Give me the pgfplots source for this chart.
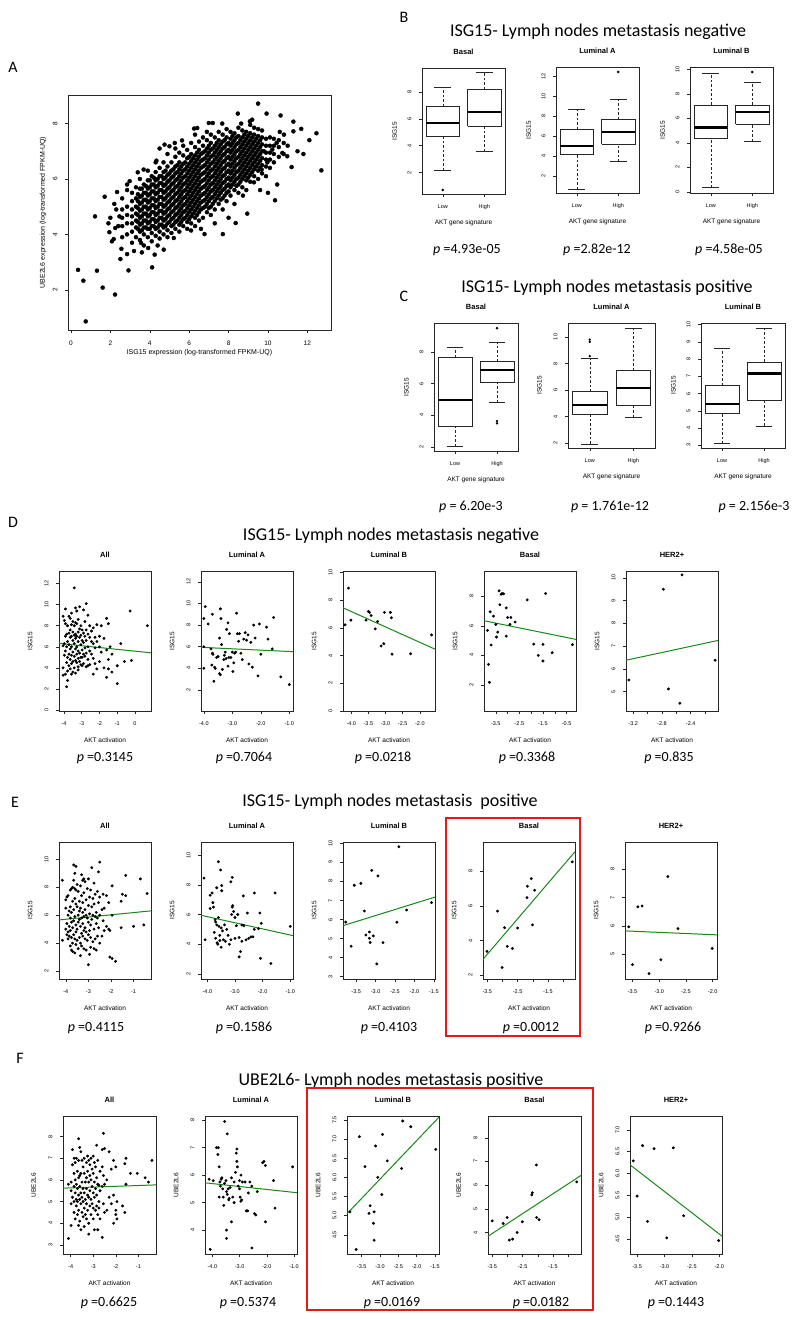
\documentclass[border=0pt]{standalone}
\usepackage{fontspec}
\setmainfont{Liberation Sans}
\newfontfamily\calib{Carlito}
\usepackage{pgfplots}
\pgfplotsset{compat=1.18}
\definecolor{fitgreen}{RGB}{22,138,22}
\definecolor{boxred}{RGB}{232,24,24}

\pgfplotsset{
  rbase/.style={
    scale only axis, anchor=south west, clip=false,
    axis line style={line width=0.6pt, black!85},
    every tick/.style={line width=0.5pt, black!85},
    tick align=outside, major tick length=3pt,
    xtick pos=bottom, ytick pos=left,
    tick label style={font=\fontsize{5.5}{6}\selectfont},
    xticklabel style={anchor=north},
    yticklabel style={rotate=90, anchor=south},
    xticklabel shift=4pt, yticklabel shift=4pt,
    title style={font=\bfseries\fontsize{7.5}{9}\selectfont, at={(axis description cs:0.5,1)}, anchor=center, yshift=10pt},
    xlabel style={font=\fontsize{6.5}{8}\selectfont, at={(axis description cs:0.5,0)}, anchor=center},
    ylabel style={font=\fontsize{6.5}{8}\selectfont, anchor=center},
    /pgf/number format/assume math mode=true,
  },
  rsc/.style={rbase, width=92pt, height=138pt, xlabel={AKT activation},
    xlabel style={yshift=-29pt}, ylabel style={at={(axis description cs:-0.315,0.5)}}},
  rbx/.style={rbase, width=83pt, height=126pt, xmin=0.5, xmax=2.5, xtick={1,2}, xticklabels={Low,High},
    xlabel={AKT gene signature}, xlabel style={yshift=-29pt}, ylabel={ISG15},
    ylabel style={at={(axis description cs:-0.33,0.5)}}},
  dots/.style={only marks, mark=*, mark size=1.25pt, black},
  fit/.style={no marks, line width=1pt, color=fitgreen},
  whisk/.style={black!85, line width=0.5pt, dash pattern=on 2.5pt off 2pt},
}

% box for the Low group: lower whisker, Q1, median, Q3, upper whisker
\newcommand{\blo}[5]{%
  \addplot[whisk] coordinates {(1,#1) (1,#2)};
  \addplot[whisk] coordinates {(1,#4) (1,#5)};
  \addplot[black!85, line width=0.5pt] coordinates {(0.8,#1) (1.2,#1)};
  \addplot[black!85, line width=0.5pt] coordinates {(0.8,#5) (1.2,#5)};
  \addplot[black!85, line width=0.6pt] coordinates {(0.6,#2) (1.4,#2) (1.4,#4) (0.6,#4) (0.6,#2)};
  \addplot[black, line width=2.2pt] coordinates {(0.6,#3) (1.4,#3)};
}
% same for the High group
\newcommand{\bhi}[5]{%
  \addplot[whisk] coordinates {(2,#1) (2,#2)};
  \addplot[whisk] coordinates {(2,#4) (2,#5)};
  \addplot[black!85, line width=0.5pt] coordinates {(1.8,#1) (2.2,#1)};
  \addplot[black!85, line width=0.5pt] coordinates {(1.8,#5) (2.2,#5)};
  \addplot[black!85, line width=0.6pt] coordinates {(1.6,#2) (2.4,#2) (2.4,#4) (1.6,#4) (1.6,#2)};
  \addplot[black, line width=2.2pt] coordinates {(1.6,#3) (2.4,#3)};
}
\newcommand{\ptxt}[3]{\node[font=\calib\fontsize{14}{16}\selectfont] at (#1pt,-#2pt) {{\itshape p} #3};}
\newcommand{\rowtitle}[3]{\node[font=\calib\fontsize{18}{20}\selectfont] at (#1pt,-#2pt) {#3};}
\newcommand{\plabel}[3]{\node[font=\calib\fontsize{16}{18}\selectfont] at (#1pt,-#2pt) {#3};}

\begin{document}
\begin{tikzpicture}
\fill[white] (0,0) rectangle (800pt,-1320pt);
\useasboundingbox (0,0) rectangle (800pt,-1320pt);

% ---------------- A ----------------
\plabel{13}{67}{A}
\begin{axis}[rbase, at={(68pt,-330pt)}, width=263pt, height=235pt,
  xmin=-0.15, xmax=13.2, ymin=0.55, ymax=9.03,
  xtick={0,2,4,6,8,10,12}, xticklabels={0,2,4,6,8,10,12},
  ytick={2,4,6,8}, yticklabels={2,4,6,8},
  tick label style={font=\fontsize{6.5}{7}\selectfont},
  xlabel={ISG15 expression (log-transformed FPKM-UQ)},
  ylabel={UBE2L6 expression (log-transformed FPKM-UQ)},
  xlabel style={font=\fontsize{7}{8}\selectfont, yshift=-23pt},
  ylabel style={font=\fontsize{7}{8}\selectfont, at={(axis description cs:-0.095,0.5)}}]
\addplot[only marks, mark=*, mark size=2pt, black] coordinates {
(0.36,2.72) (0.63,2.33) (0.75,0.86) (1.32,2.69) (1.61,2.08) (2.24,1.83) (1.22,4.65) (1.71,5.36)
(2.34,5.53) (1.95,4.08) (2.08,3.75) (2.17,3.83) (2.25,4.23) (2.51,3.11) (2.56,3.48) (2.85,3.29)
(2.92,2.7) (4.12,2.81) (2.46,4.65) (2.85,5.8) (2.98,5.92) (3.39,6.24) (3.69,6.34) (4.34,6.66)
(4.75,7.24) (5.0,7.18) (5.27,7.3) (5.64,7.39) (6.25,7.82) (6.41,7.84) (7.0,8.02) (7.2,8.02)
(7.68,8.0) (8.47,8.36) (8.64,8.0) (9.08,8.08) (9.2,8.14) (9.5,8.72) (9.93,8.36) (10.64,8.29)
(11.29,8.07) (11.29,7.72) (11.69,7.81) (12.46,7.65) (12.71,6.31) (11.2,6.43) (10.98,6.82) (10.73,6.94)
(10.47,5.8) (10.36,5.23) (10.81,7.6) (10.44,7.3) (10.22,7.06) (8.95,4.75) (8.36,4.41) (7.71,4.01)
(6.78,4.01) (6.1,4.14) (5.22,3.87) (4.71,3.45) (4.25,3.27) (3.92,3.51) (3.56,3.69) (8.73,5.4)
(9.29,5.88) (9.68,6.34) (9.97,6.6) (9.8,7.0) (2.0,4.6) (2.3,4.9) (2.4,4.3) (2.2,5.1) (1.9,4.4)
(3.2,3.4) (3.6,3.35) (4.4,3.6) (11.0,7.2) (11.5,7.0) (10.6,7.7) (11.8,6.9) (12.1,7.4) (9.6,5.6)
(10.0,5.5) (8.0,4.6) (7.3,4.4) (6.6,4.2)
(2.6,3.9) (2.6,4.3) (2.6,4.6) (2.6,4.9) (2.6,5.3)
(2.85,4.0) (2.85,4.4) (2.85,4.7) (2.85,5.0) (2.85,5.6)
(3.1,3.7) (3.1,4.1) (3.1,4.4) (3.1,4.65) (3.1,4.9) (3.1,5.2) (3.1,5.5)
(3.3,3.9) (3.3,4.25) (3.3,4.5) (3.3,4.75) (3.3,5.0) (3.3,5.3) (3.3,5.7)
(3.5,3.8) (3.5,4.1) (3.5,4.35) (3.5,4.6) (3.5,4.85) (3.5,5.1) (3.5,5.35) (3.5,5.65) (3.5,6.0)
(3.7,3.6) (3.7,4.0) (3.7,4.25) (3.7,4.5) (3.7,4.75) (3.7,5.0) (3.7,5.25) (3.7,5.5) (3.7,5.8)
(3.9,3.9) (3.9,4.2) (3.9,4.4) (3.9,4.65) (3.9,4.9) (3.9,5.15) (3.9,5.4) (3.9,5.65) (3.9,5.95) (3.9,6.3)
(4.1,3.75) (4.1,4.05) (4.1,4.3) (4.1,4.55) (4.1,4.8) (4.1,5.05) (4.1,5.3) (4.1,5.55) (4.1,5.8) (4.1,6.1)
(4.3,3.95) (4.3,4.2) (4.3,4.45) (4.3,4.7) (4.3,4.95) (4.3,5.2) (4.3,5.45) (4.3,5.7) (4.3,5.95) (4.3,6.25) (4.3,6.6)
(4.5,3.85) (4.5,4.1) (4.5,4.35) (4.5,4.6) (4.5,4.85) (4.5,5.1) (4.5,5.35) (4.5,5.6) (4.5,5.85) (4.5,6.1) (4.5,6.4) (4.5,7.1)
(4.7,4.0) (4.7,4.25) (4.7,4.5) (4.7,4.75) (4.7,5.0) (4.7,5.25) (4.7,5.5) (4.7,5.75) (4.7,6.0) (4.7,6.25) (4.7,6.6)
(4.9,3.9) (4.9,4.15) (4.9,4.4) (4.9,4.65) (4.9,4.9) (4.9,5.15) (4.9,5.4) (4.9,5.65) (4.9,5.9) (4.9,6.15) (4.9,6.45) (4.9,6.9)
(5.1,4.05) (5.1,4.3) (5.1,4.55) (5.1,4.8) (5.1,5.05) (5.1,5.3) (5.1,5.55) (5.1,5.8) (5.1,6.05) (5.1,6.3) (5.1,6.6)
(5.3,4.2) (5.3,4.45) (5.3,4.7) (5.3,4.95) (5.3,5.2) (5.3,5.45) (5.3,5.7) (5.3,5.95) (5.3,6.2) (5.3,6.45) (5.3,6.8) (5.3,7.1)
(5.5,4.1) (5.5,4.35) (5.5,4.6) (5.5,4.85) (5.5,5.1) (5.5,5.35) (5.5,5.6) (5.5,5.85) (5.5,6.1) (5.5,6.35) (5.5,6.6) (5.5,6.95)
(5.7,4.3) (5.7,4.55) (5.7,4.8) (5.7,5.05) (5.7,5.3) (5.7,5.55) (5.7,5.8) (5.7,6.05) (5.7,6.3) (5.7,6.55) (5.7,6.85) (5.7,7.2)
(5.9,4.2) (5.9,4.45) (5.9,4.7) (5.9,4.95) (5.9,5.2) (5.9,5.45) (5.9,5.7) (5.9,5.95) (5.9,6.2) (5.9,6.45) (5.9,6.75) (5.9,7.05)
(6.1,4.4) (6.1,4.65) (6.1,4.9) (6.1,5.15) (6.1,5.4) (6.1,5.65) (6.1,5.9) (6.1,6.15) (6.1,6.4) (6.1,6.65) (6.1,6.9) (6.1,7.3)
(6.3,4.3) (6.3,4.6) (6.3,4.85) (6.3,5.1) (6.3,5.35) (6.3,5.6) (6.3,5.85) (6.3,6.1) (6.3,6.35) (6.3,6.6) (6.3,6.85) (6.3,7.15) (6.3,7.6)
(6.5,4.5) (6.5,4.8) (6.5,5.05) (6.5,5.3) (6.5,5.55) (6.5,5.8) (6.5,6.05) (6.5,6.3) (6.5,6.55) (6.5,6.8) (6.5,7.05) (6.5,7.35)
(6.7,4.6) (6.7,4.95) (6.7,5.2) (6.7,5.45) (6.7,5.7) (6.7,5.95) (6.7,6.2) (6.7,6.45) (6.7,6.7) (6.7,6.95) (6.7,7.2) (6.7,7.5)
(6.9,4.8) (6.9,5.1) (6.9,5.35) (6.9,5.6) (6.9,5.85) (6.9,6.1) (6.9,6.35) (6.9,6.6) (6.9,6.85) (6.9,7.1) (6.9,7.4) (6.9,7.7)
(7.1,4.7) (7.1,5.0) (7.1,5.3) (7.1,5.55) (7.1,5.8) (7.1,6.05) (7.1,6.3) (7.1,6.55) (7.1,6.8) (7.1,7.05) (7.1,7.3) (7.1,7.6)
(7.3,4.9) (7.3,5.2) (7.3,5.45) (7.3,5.7) (7.3,5.95) (7.3,6.2) (7.3,6.45) (7.3,6.7) (7.3,6.95) (7.3,7.2) (7.3,7.5)
(7.5,5.1) (7.5,5.4) (7.5,5.65) (7.5,5.9) (7.5,6.15) (7.5,6.4) (7.5,6.65) (7.5,6.9) (7.5,7.15) (7.5,7.4) (7.5,7.7)
(7.7,4.9) (7.7,5.3) (7.7,5.6) (7.7,5.85) (7.7,6.1) (7.7,6.35) (7.7,6.6) (7.7,6.85) (7.7,7.1) (7.7,7.35) (7.7,7.6)
(7.9,5.2) (7.9,5.5) (7.9,5.75) (7.9,6.0) (7.9,6.25) (7.9,6.5) (7.9,6.75) (7.9,7.0) (7.9,7.25) (7.9,7.5) (7.9,7.8)
(8.1,5.4) (8.1,5.7) (8.1,5.95) (8.1,6.2) (8.1,6.45) (8.1,6.7) (8.1,6.95) (8.1,7.2) (8.1,7.45) (8.1,7.7)
(8.3,5.1) (8.3,5.6) (8.3,5.9) (8.3,6.15) (8.3,6.4) (8.3,6.65) (8.3,6.9) (8.3,7.15) (8.3,7.4) (8.3,7.65)
(8.5,5.5) (8.5,5.8) (8.5,6.05) (8.5,6.3) (8.5,6.55) (8.5,6.8) (8.5,7.05) (8.5,7.3) (8.5,7.55) (8.5,7.85)
(8.7,5.7) (8.7,6.0) (8.7,6.25) (8.7,6.5) (8.7,6.75) (8.7,7.0) (8.7,7.25) (8.7,7.5) (8.7,7.75)
(8.9,5.6) (8.9,5.95) (8.9,6.2) (8.9,6.45) (8.9,6.7) (8.9,6.95) (8.9,7.2) (8.9,7.45) (8.9,7.7)
(9.1,5.9) (9.1,6.15) (9.1,6.4) (9.1,6.65) (9.1,6.9) (9.1,7.15) (9.1,7.4) (9.1,7.65) (9.1,7.95)
(9.3,6.1) (9.3,6.35) (9.3,6.6) (9.3,6.85) (9.3,7.1) (9.3,7.35) (9.3,7.6) (9.3,7.85)
(9.5,6.0) (9.5,6.3) (9.5,6.55) (9.5,6.8) (9.5,7.05) (9.5,7.3) (9.5,7.55) (9.5,7.8)
(9.7,6.2) (9.7,6.5) (9.7,6.75) (9.7,7.0) (9.7,7.25) (9.7,7.5) (9.7,7.75)
(9.9,6.1) (9.9,6.45) (9.9,6.7) (9.9,6.95) (9.9,7.2) (9.9,7.45)
(10.1,6.4) (10.1,6.7) (10.1,6.95) (10.1,7.2) (10.1,7.5)
(10.3,6.6) (10.3,6.9) (10.3,7.2) (10.3,7.45)
(10.55,6.8) (10.55,7.15) (10.55,7.4) (10.8,6.9) (10.8,7.3)
};
% the dense core of the cloud
\addplot[only marks, mark=*, mark size=2pt, black] coordinates {
(3.4,4.2) (3.4,4.45) (3.4,4.7) (3.4,4.95) (3.4,5.2) (3.4,5.45)
(3.6,4.15) (3.6,4.4) (3.6,4.65) (3.6,4.9) (3.6,5.15) (3.6,5.4) (3.6,5.65)
(3.8,4.25) (3.8,4.5) (3.8,4.75) (3.8,5.0) (3.8,5.25) (3.8,5.5) (3.8,5.75)
(4.0,4.2) (4.0,4.45) (4.0,4.7) (4.0,4.95) (4.0,5.2) (4.0,5.45) (4.0,5.7) (4.0,5.95)
(4.2,4.3) (4.2,4.55) (4.2,4.8) (4.2,5.05) (4.2,5.3) (4.2,5.55) (4.2,5.8) (4.2,6.05)
(4.4,4.25) (4.4,4.5) (4.4,4.75) (4.4,5.0) (4.4,5.25) (4.4,5.5) (4.4,5.75) (4.4,6.0)
(4.6,4.35) (4.6,4.6) (4.6,4.85) (4.6,5.1) (4.6,5.35) (4.6,5.6) (4.6,5.85) (4.6,6.1)
(4.8,4.3) (4.8,4.55) (4.8,4.8) (4.8,5.05) (4.8,5.3) (4.8,5.55) (4.8,5.8) (4.8,6.05) (4.8,6.3)
(5.0,4.45) (5.0,4.7) (5.0,4.95) (5.0,5.2) (5.0,5.45) (5.0,5.7) (5.0,5.95) (5.0,6.2)
(5.2,4.35) (5.2,4.6) (5.2,4.85) (5.2,5.1) (5.2,5.35) (5.2,5.6) (5.2,5.85) (5.2,6.1) (5.2,6.35)
(5.4,4.5) (5.4,4.75) (5.4,5.0) (5.4,5.25) (5.4,5.5) (5.4,5.75) (5.4,6.0) (5.4,6.25) (5.4,6.5)
(5.6,4.45) (5.6,4.7) (5.6,4.95) (5.6,5.2) (5.6,5.45) (5.6,5.7) (5.6,5.95) (5.6,6.2) (5.6,6.45)
(5.8,4.6) (5.8,4.85) (5.8,5.1) (5.8,5.35) (5.8,5.6) (5.8,5.85) (5.8,6.1) (5.8,6.35) (5.8,6.6)
(6.0,4.55) (6.0,4.8) (6.0,5.05) (6.0,5.3) (6.0,5.55) (6.0,5.8) (6.0,6.05) (6.0,6.3) (6.0,6.55) (6.0,6.8)
(6.2,4.75) (6.2,5.0) (6.2,5.25) (6.2,5.5) (6.2,5.75) (6.2,6.0) (6.2,6.25) (6.2,6.5) (6.2,6.75)
(6.4,4.7) (6.4,4.95) (6.4,5.2) (6.4,5.45) (6.4,5.7) (6.4,5.95) (6.4,6.2) (6.4,6.45) (6.4,6.7) (6.4,6.95)
(6.6,4.9) (6.6,5.15) (6.6,5.4) (6.6,5.65) (6.6,5.9) (6.6,6.15) (6.6,6.4) (6.6,6.65) (6.6,6.9)
(6.8,5.0) (6.8,5.25) (6.8,5.5) (6.8,5.75) (6.8,6.0) (6.8,6.25) (6.8,6.5) (6.8,6.75) (6.8,7.0)
(7.0,4.95) (7.0,5.2) (7.0,5.45) (7.0,5.7) (7.0,5.95) (7.0,6.2) (7.0,6.45) (7.0,6.7) (7.0,6.95) (7.0,7.2)
(7.2,5.1) (7.2,5.35) (7.2,5.6) (7.2,5.85) (7.2,6.1) (7.2,6.35) (7.2,6.6) (7.2,6.85) (7.2,7.1)
(7.4,5.3) (7.4,5.55) (7.4,5.8) (7.4,6.05) (7.4,6.3) (7.4,6.55) (7.4,6.8) (7.4,7.05) (7.4,7.3)
(7.6,5.25) (7.6,5.5) (7.6,5.75) (7.6,6.0) (7.6,6.25) (7.6,6.5) (7.6,6.75) (7.6,7.0) (7.6,7.25)
(7.8,5.4) (7.8,5.65) (7.8,5.9) (7.8,6.15) (7.8,6.4) (7.8,6.65) (7.8,6.9) (7.8,7.15) (7.8,7.4)
(8.0,5.55) (8.0,5.8) (8.0,6.05) (8.0,6.3) (8.0,6.55) (8.0,6.8) (8.0,7.05) (8.0,7.3)
(8.2,5.8) (8.2,6.05) (8.2,6.3) (8.2,6.55) (8.2,6.8) (8.2,7.05) (8.2,7.3) (8.2,7.55)
(8.4,5.75) (8.4,6.0) (8.4,6.25) (8.4,6.5) (8.4,6.75) (8.4,7.0) (8.4,7.25) (8.4,7.5)
(8.6,5.9) (8.6,6.15) (8.6,6.4) (8.6,6.65) (8.6,6.9) (8.6,7.15) (8.6,7.4)
(8.8,6.1) (8.8,6.35) (8.8,6.6) (8.8,6.85) (8.8,7.1) (8.8,7.35) (8.8,7.6)
(9.0,6.05) (9.0,6.3) (9.0,6.55) (9.0,6.8) (9.0,7.05) (9.0,7.3) (9.0,7.55)
(9.2,6.25) (9.2,6.5) (9.2,6.75) (9.2,7.0) (9.2,7.25) (9.2,7.5)
(9.4,6.45) (9.4,6.7) (9.4,6.95) (9.4,7.2) (9.4,7.45)
(9.6,6.4) (9.6,6.65) (9.6,6.9) (9.6,7.15) (9.6,7.4)
};
\end{axis}

% ---------------- B ----------------
\plabel{404}{17}{B}
\rowtitle{598}{32}{ISG15- Lymph nodes metastasis negative}
\begin{axis}[rbx, at={(422pt,-194pt)}, ymin=0.4, ymax=9.78,
  ytick={2,4,6,8}, yticklabels={2,4,6,8}, title={Basal}]
\blo{2.15}{4.7}{5.7}{6.95}{8.35}
\bhi{3.58}{5.45}{6.5}{8.2}{9.45}
\addplot[only marks, mark=*, mark size=1pt, black] coordinates {(1,0.7)};
\end{axis}
\begin{axis}[rbx, at={(556pt,-193pt)}, ymin=0.27, ymax=12.93,
  ytick={2,4,6,8,10,12}, yticklabels={2,4,6,8,10,12}, title={Luminal A}]
\blo{0.67}{4.17}{5.0}{6.67}{8.67}
\bhi{3.43}{5.17}{6.37}{7.67}{9.7}
\addplot[only marks, mark=*, mark size=1pt, black] coordinates {(2,12.43)};
\end{axis}
\begin{axis}[rbx, at={(690pt,-193pt)}, ymin=-0.1, ymax=10.2,
  ytick={0,2,4,6,8,10}, yticklabels={0,2,4,6,8,10}, title={Luminal B}]
\blo{0.33}{4.4}{5.25}{7.1}{9.65}
\bhi{4.13}{5.5}{6.55}{7.1}{8.93}
\addplot[only marks, mark=*, mark size=1pt, black] coordinates {(2,9.79)};
\end{axis}
\ptxt{467}{250}{=4.93e-05}
\ptxt{597}{250}{=2.82e-12}
\ptxt{729}{250}{=4.58e-05}

% ---------------- C ----------------
\plabel{404}{296}{C}
\rowtitle{607}{288}{ISG15- Lymph nodes metastasis positive}
\begin{axis}[rbx, at={(434pt,-451pt)}, width=84pt, height=128pt, ymin=1.75, ymax=9.83,
  ytick={2,4,6,8}, yticklabels={2,4,6,8}, title={Basal}]
\blo{2.06}{3.33}{4.95}{7.68}{8.32}
\bhi{4.84}{6.1}{6.88}{7.4}{8.6}
\addplot[only marks, mark=*, mark size=1pt, black] coordinates {(2,9.5) (2,3.64) (2,3.5)};
\end{axis}
\begin{axis}[rbx, at={(568pt,-448pt)}, width=87pt, height=125pt, ymin=1.63, ymax=11.05,
  ytick={2,4,6,8,10}, yticklabels={2,4,6,8,10}, title={Luminal A}]
\blo{1.95}{4.2}{4.88}{5.88}{8.38}
\bhi{3.93}{4.88}{6.13}{7.5}{10.68}
\addplot[only marks, mark=*, mark size=1pt, black] coordinates {(1,9.8) (1,9.63) (1,8.55)};
\end{axis}
\begin{axis}[rbx, at={(701pt,-448pt)}, width=84pt, height=125pt, ymin=2.85, ymax=10.1,
  ytick={3,4,5,6,7,8,9,10}, yticklabels={3,4,5,6,7,8,9,10}, title={Luminal B}]
\blo{3.1}{4.85}{5.4}{6.5}{8.66}
\bhi{4.13}{5.6}{7.17}{7.85}{9.8}
\end{axis}
\ptxt{471}{507}{= 6.20e-3}
\ptxt{610}{507}{= 1.761e-12}
\ptxt{754}{507}{= 2.156e-3}

% ---------------- D ----------------
\plabel{13}{522}{D}
\rowtitle{391}{536}{ISG15- Lymph nodes metastasis negative}
\begin{axis}[rsc, at={(59pt,-711pt)}, height=140pt, xmin=-4.28, xmax=0.9, ymin=-0.1, ymax=13.2,
  xtick={-4,-3,-2,-1,0}, xticklabels={-4,-3,-2,-1,0},
  ytick={0,2,4,6,8,10,12}, yticklabels={0,2,4,6,8,10,12}, title={All}, ylabel={ISG15}]
\addplot[dots] coordinates {
(-4.05,6.1) (-4.05,8.9) (-4.05,4.0) (-4.05,3.3) (-3.98,8.5) (-3.98,6.3) (-3.98,5.2)
(-3.92,8.2) (-3.92,7.0) (-3.92,5.6) (-3.92,3.4) (-3.92,9.6) (-3.85,7.2) (-3.85,6.0) (-3.85,4.5) (-3.85,2.2)
(-3.8,8.0) (-3.8,6.5) (-3.8,5.0) (-3.8,3.7) (-3.8,2.8) (-3.72,8.9) (-3.72,7.3) (-3.72,6.2) (-3.72,5.3) (-3.72,4.2)
(-3.65,8.7) (-3.65,7.6) (-3.65,6.9) (-3.65,5.8) (-3.65,4.8) (-3.65,3.9)
(-3.58,9.2) (-3.58,8.1) (-3.58,7.0) (-3.58,6.0) (-3.58,5.2) (-3.58,4.4) (-3.58,3.4)
(-3.5,8.4) (-3.5,7.4) (-3.5,6.6) (-3.5,5.5) (-3.5,4.6) (-3.5,3.6)
(-3.42,11.6) (-3.42,8.0) (-3.42,7.1) (-3.42,6.3) (-3.42,5.1) (-3.42,4.0)
(-3.35,9.7) (-3.35,8.3) (-3.35,7.2) (-3.35,6.8) (-3.35,5.8) (-3.35,4.7) (-3.35,3.5)
(-3.28,9.4) (-3.28,8.2) (-3.28,7.0) (-3.28,6.0) (-3.28,5.3) (-3.28,4.5)
(-3.2,8.6) (-3.2,7.4) (-3.2,6.5) (-3.2,5.6) (-3.2,4.9) (-3.2,4.1) (-3.2,3.8)
(-3.12,9.8) (-3.12,7.7) (-3.12,6.9) (-3.12,5.4) (-3.12,4.6) (-3.05,8.0) (-3.05,7.1) (-3.05,6.2) (-3.05,5.0) (-3.05,4.3)
(-2.98,7.6) (-2.98,6.6) (-2.98,5.7) (-2.98,5.0) (-2.98,4.2) (-2.9,9.5) (-2.9,7.3) (-2.9,6.4) (-2.9,5.3) (-2.9,4.4)
(-2.82,8.4) (-2.82,7.0) (-2.82,5.9) (-2.82,5.1) (-2.75,10.1) (-2.75,7.6) (-2.75,6.6) (-2.75,5.4) (-2.75,4.1)
(-2.65,9.0) (-2.65,7.2) (-2.65,6.0) (-2.65,4.8) (-2.65,4.2) (-2.55,8.0) (-2.55,6.9) (-2.55,5.6) (-2.55,4.3)
(-2.45,7.5) (-2.45,6.5) (-2.45,5.3) (-2.35,7.8) (-2.35,6.3) (-2.35,4.9) (-2.35,3.4)
(-2.25,6.9) (-2.25,5.9) (-2.25,4.4) (-2.15,8.1) (-2.15,6.5) (-2.15,3.9) (-2.0,7.0) (-2.0,6.0) (-2.0,4.6)
(-1.9,8.0) (-1.9,5.5) (-1.75,6.8) (-1.75,4.0) (-1.6,8.7) (-1.6,5.7) (-1.6,3.1) (-1.5,8.2) (-1.5,4.8) (-1.5,3.9)
(-1.4,6.0) (-1.3,5.3) (-1.3,3.6) (-1.0,2.5) (-1.0,4.2) (-0.8,6.3) (-0.6,4.6) (-0.28,9.4) (-0.2,4.7) (0.7,8.0)
};
\addplot[fit] coordinates {(-4.28,6.32) (0.9,5.43)};
\end{axis}
\begin{axis}[rsc, at={(201pt,-711pt)}, height=140pt, xmin=-4.1, xmax=-0.87, ymin=0.05, ymax=13.0,
  xtick={-4,-3,-2,-1}, xticklabels={-4.0,-3.0,-2.0,-1.0},
  ytick={2,4,6,8,10,12}, yticklabels={2,4,6,8,10,12}, title={Luminal A}, ylabel={ISG15}]
\addplot[dots] coordinates {
(-4.0,8.6) (-3.95,9.7) (-3.85,8.1) (-4.0,6.0) (-4.0,4.0) (-3.7,9.0) (-3.75,5.8) (-3.7,5.4) (-3.68,5.3)
(-3.72,4.3) (-3.62,4.1) (-3.6,4.0) (-3.65,2.8) (-3.55,5.0) (-3.5,5.1) (-3.45,6.8) (-3.42,9.5) (-3.4,8.6)
(-3.45,3.5) (-3.42,3.4) (-3.35,3.9) (-3.38,6.2) (-3.3,4.8) (-3.28,5.2) (-3.25,5.5) (-3.22,4.9) (-3.2,7.6)
(-3.15,4.2) (-3.12,5.0) (-3.15,8.2) (-3.1,7.2) (-3.05,5.0) (-3.0,5.5) (-2.98,3.7) (-2.95,4.5) (-2.92,5.4)
(-2.88,5.5) (-2.85,9.1) (-2.82,7.2) (-2.78,6.5) (-2.75,7.2) (-2.7,5.4) (-2.65,4.8) (-2.6,6.7) (-2.55,7.3)
(-2.5,6.6) (-2.45,7.1) (-2.42,4.4) (-2.35,6.4) (-2.3,4.1) (-2.25,8.0) (-2.2,6.8) (-2.1,3.3) (-2.05,8.1)
(-2.0,5.3) (-1.8,7.8) (-1.75,6.7) (-1.6,5.8) (-1.55,8.7) (-1.3,3.2) (-1.0,2.5)
};
\addplot[fit] coordinates {(-4.1,5.94) (-0.87,5.54)};
\end{axis}
\begin{axis}[rsc, at={(343pt,-711pt)}, height=140pt, xmin=-4.24, xmax=-1.56, ymin=0, ymax=10.12,
  xtick={-4,-3.5,-3,-2.5,-2}, xticklabels={-4.0,-3.5,-3.0,-2.5,-2.0},
  ytick={0,2,4,6,8,10}, yticklabels={0,2,4,6,8,10}, title={Luminal B}, ylabel={ISG15}]
\addplot[dots] coordinates {
(-4.18,6.23) (-4.08,8.88) (-4.01,6.57) (-3.57,6.57) (-3.5,7.2) (-3.47,7.13) (-3.42,6.9) (-3.3,5.94)
(-3.23,6.47) (-3.13,4.7) (-3.05,4.87) (-3.03,7.13) (-2.86,7.13) (-2.83,6.74) (-2.81,4.11) (-2.27,4.14) (-1.66,5.5)
};
\addplot[fit] coordinates {(-4.24,7.46) (-1.56,4.47)};
\end{axis}
\begin{axis}[rsc, at={(484pt,-711pt)}, height=140pt, xmin=-4.0, xmax=-0.1, ymin=0.24, ymax=9.7,
  xtick={-3.5,-3,-2.5,-2,-1.5,-1,-0.5}, xticklabels={-3.5,,-2.5,,-1.5,,-0.5},
  ytick={2,4,6,8}, yticklabels={2,4,6,8}, title={Basal}, ylabel={ISG15}]
\addplot[dots] coordinates {
(-3.85,5.69) (-3.81,3.39) (-3.77,2.18) (-3.74,6.94) (-3.7,4.7) (-3.6,6.65) (-3.5,6.09) (-3.47,5.24)
(-3.42,5.57) (-3.36,8.36) (-3.33,7.42) (-3.27,8.13) (-3.23,8.18) (-3.17,8.16) (-3.06,7.21) (-3.06,5.3)
(-3.0,6.56) (-2.86,6.56) (-2.9,6.09) (-2.68,6.25) (-2.17,7.75) (-1.89,4.76) (-1.7,4.0) (-1.5,4.74)
(-1.5,3.62) (-1.39,8.18) (-1.11,4.18) (-0.25,4.72)
};
\addplot[fit] coordinates {(-4.0,6.34) (-0.1,5.08)};
\end{axis}
\begin{axis}[rsc, at={(626pt,-711pt)}, height=140pt, xmin=-3.3, xmax=-2.02, ymin=4.15, ymax=10.3,
  xtick={-3.2,-3.0,-2.8,-2.6,-2.4,-2.2}, xticklabels={-3.2,,-2.8,,-2.4,},
  ytick={5,6,7,8,9,10}, yticklabels={5,6,7,8,9,10}, title={HER2+}, ylabel={ISG15}]
\addplot[dots] coordinates {(-3.26,5.51) (-2.78,9.5) (-2.71,5.12) (-2.55,4.49) (-2.06,6.38) (-2.52,10.13)};
\addplot[fit] coordinates {(-3.3,6.38) (-2.02,7.25)};
\end{axis}
\ptxt{105}{758}{=0.3145}
\ptxt{244}{758}{=0.7064}
\ptxt{383}{758}{=0.0218}
\ptxt{527}{758}{=0.3368}
\ptxt{669}{758}{=0.835}

% ---------------- E ----------------
\plabel{15}{802}{E}
\rowtitle{390}{802}{ISG15- Lymph nodes metastasis~ positive}
\draw[boxred, line width=1.6pt] (446pt,-818pt) rectangle (580pt,-1036pt);
\begin{axis}[rsc, at={(59pt,-979pt)}, height=137pt, xmin=-4.3, xmax=-0.23, ymin=1.43, ymax=11.24,
  xtick={-4,-3,-2,-1}, xticklabels={-4,-3,-2,-1},
  ytick={2,4,6,8,10}, yticklabels={2,4,6,8,10}, title={All}, ylabel={ISG15}]
\addplot[dots] coordinates {
(-4.15,8.5) (-4.15,4.2) (-4.0,7.1) (-4.0,6.5) (-4.0,5.0) (-3.95,7.3) (-3.95,5.4) (-3.95,4.6)
(-3.9,7.4) (-3.9,6.0) (-3.9,4.8) (-3.9,4.3) (-3.85,6.3) (-3.85,5.2) (-3.85,4.5)
(-3.8,7.8) (-3.8,6.6) (-3.8,5.8) (-3.8,4.9) (-3.8,3.8) (-3.75,7.9) (-3.75,6.2) (-3.75,5.5) (-3.75,4.4) (-3.75,3.5)
(-3.7,8.0) (-3.7,7.0) (-3.7,5.1) (-3.7,4.0) (-3.7,3.4) (-3.65,9.6) (-3.65,8.5) (-3.65,6.4) (-3.65,5.6) (-3.65,4.6)
(-3.6,9.0) (-3.6,7.9) (-3.6,7.2) (-3.6,5.9) (-3.6,4.3) (-3.6,3.3) (-3.55,9.5) (-3.55,7.8) (-3.55,6.8) (-3.55,5.3) (-3.55,4.8) (-3.55,3.9)
(-3.5,8.2) (-3.5,6.6) (-3.5,5.0) (-3.5,4.2) (-3.45,7.7) (-3.45,6.0) (-3.45,5.5) (-3.45,3.6)
(-3.4,7.0) (-3.4,6.3) (-3.4,5.7) (-3.4,4.4) (-3.35,8.1) (-3.35,6.5) (-3.35,5.2) (-3.35,4.0) (-3.35,3.1)
(-3.3,8.9) (-3.3,7.4) (-3.3,5.8) (-3.3,4.7) (-3.3,3.8) (-3.25,8.5) (-3.25,6.9) (-3.25,6.2) (-3.25,5.4) (-3.25,4.5)
(-3.2,8.6) (-3.2,7.6) (-3.2,5.9) (-3.2,4.9) (-3.2,3.6) (-3.15,8.4) (-3.15,6.4) (-3.15,5.1) (-3.15,4.3)
(-3.1,7.1) (-3.1,6.0) (-3.1,4.8) (-3.1,3.5) (-3.05,7.9) (-3.05,5.8) (-3.05,4.2)
(-3.0,8.6) (-3.0,6.7) (-3.0,5.5) (-3.0,4.6) (-3.0,2.45) (-2.95,7.3) (-2.95,6.1) (-2.95,4.9) (-2.95,3.2)
(-2.9,7.8) (-2.9,5.3) (-2.9,4.4) (-2.9,3.7) (-2.85,9.4) (-2.85,6.6) (-2.85,5.7) (-2.8,7.2) (-2.8,6.0) (-2.8,4.1)
(-2.75,8.3) (-2.75,6.8) (-2.75,5.0) (-2.75,3.6) (-2.7,7.5) (-2.7,5.9) (-2.7,4.3) (-2.65,6.2) (-2.65,5.4) (-2.65,3.5)
(-2.6,7.7) (-2.6,5.8) (-2.6,4.5) (-2.55,9.1) (-2.55,6.9) (-2.55,5.1) (-2.5,9.8) (-2.5,7.3) (-2.5,6.0) (-2.5,4.0)
(-2.4,6.4) (-2.4,4.5) (-2.35,7.5) (-2.35,5.6) (-2.3,6.5) (-2.3,4.9) (-2.2,7.4) (-2.2,5.2) (-2.1,6.9) (-2.1,5.0)
(-2.05,3.0) (-2.05,4.9) (-1.95,8.1) (-1.95,2.9) (-1.95,6.0) (-1.8,2.7) (-1.55,7.0) (-1.55,5.1) (-1.5,7.5)
(-1.35,8.85) (-1.35,7.4) (-1.0,5.2) (-0.7,8.6) (-0.55,5.3) (-0.4,7.55)
};
\addplot[fit] coordinates {(-4.3,5.66) (-0.23,6.31)};
\end{axis}
\begin{axis}[rsc, at={(201pt,-979pt)}, height=137pt, xmin=-4.23, xmax=-0.9, ymin=1.66, ymax=10.88,
  xtick={-4,-3,-2,-1}, xticklabels={-4.0,-3.0,-2.0,-1.0},
  ytick={2,4,6,8,10}, yticklabels={2,4,6,8,10}, title={Luminal A}, ylabel={ISG15}]
\addplot[dots] coordinates {
(-4.12,8.45) (-4.08,4.3) (-3.9,7.3) (-3.83,7.45) (-3.8,6.8) (-3.9,6.4) (-3.78,6.5) (-3.6,9.55) (-3.52,9.0)
(-3.48,7.6) (-3.48,7.95) (-3.66,7.8) (-3.72,5.65) (-3.66,5.3) (-3.7,5.5) (-3.75,4.8) (-3.7,4.4) (-3.65,4.1)
(-3.62,4.0) (-3.55,4.6) (-3.55,4.25) (-3.5,3.8) (-3.45,4.9) (-3.42,4.3) (-3.6,5.8) (-3.58,5.2) (-3.5,5.1)
(-3.38,5.3) (-3.3,5.0) (-3.2,4.0) (-3.15,4.3) (-3.12,6.0) (-3.1,6.5) (-3.08,6.6) (-3.15,8.2) (-3.1,8.5)
(-3.05,6.2) (-3.0,5.8) (-3.0,4.4) (-2.95,5.25) (-2.85,3.15) (-2.8,3.5) (-2.75,4.2) (-2.7,7.25) (-2.68,5.25)
(-2.6,4.3) (-2.55,6.1) (-2.5,4.4) (-2.42,4.5) (-2.35,4.5) (-2.3,7.45) (-2.3,5.0) (-2.15,5.05) (-2.1,6.1)
(-2.08,3.05) (-2.05,5.4) (-1.55,7.45) (-1.7,2.7) (-1.0,5.2) (-2.9,6.0) (-2.75,5.3) (-3.35,4.2) (-3.25,4.6) (-2.85,4.45)
};
\addplot[fit] coordinates {(-4.23,5.95) (-0.9,4.58)};
\end{axis}
\begin{axis}[rsc, at={(343pt,-979pt)}, height=137pt, xmin=-3.84, xmax=-1.47, ymin=2.88, ymax=10.07,
  xtick={-3.5,-3,-2.5,-2,-1.5}, xticklabels={-3.5,-3.0,-2.5,-2.0,-1.5},
  ytick={3,4,5,6,7,8,9,10}, yticklabels={3,4,5,6,7,8,9,10}, title={Luminal B}, ylabel={ISG15}]
\addplot[dots] coordinates {
(-3.77,5.87) (-3.63,4.6) (-3.55,7.8) (-3.38,7.9) (-3.29,6.45) (-3.25,5.19) (-3.16,5.35) (-3.16,5.02)
(-3.14,4.8) (-3.1,8.58) (-3.06,5.14) (-2.94,8.29) (-2.97,3.67) (-2.81,4.79) (-2.4,9.82) (-2.45,5.86)
(-2.2,6.5) (-1.56,6.89)
};
\addplot[fit] coordinates {(-3.84,5.68) (-1.47,7.18)};
\end{axis}
\begin{axis}[rsc, at={(483pt,-979pt)}, height=137pt, xmin=-3.64, xmax=-0.61, ymin=1.77, ymax=9.7,
  xtick={-3.5,-3,-2.5,-2,-1.5,-1}, xticklabels={-3.5,,-2.5,,-1.5,},
  ytick={2,4,6,8}, yticklabels={2,4,6,8}, title={Basal}, ylabel={ISG15}]
\addplot[dots] coordinates {
(-3.51,3.37) (-3.16,5.7) (-3.01,2.44) (-2.93,4.74) (-2.84,3.66) (-2.67,3.54) (-2.5,4.72)
(-2.19,6.48) (-2.18,7.14) (-2.05,7.58) (-2.01,4.9) (-1.94,6.91) (-0.7,8.55)
};
\addplot[fit] coordinates {(-3.64,2.91) (-0.61,9.14)};
\end{axis}
\begin{axis}[rsc, at={(625pt,-979pt)}, height=137pt, xmin=-3.64, xmax=-1.92, ymin=4.12, ymax=8.96,
  xtick={-3.5,-3,-2.5,-2}, xticklabels={-3.5,-3.0,-2.5,-2.0},
  ytick={5,6,7,8}, yticklabels={5,6,7,8}, title={HER2+}, ylabel={ISG15}]
\addplot[dots] coordinates {
(-3.57,5.96) (-3.5,4.63) (-3.4,6.67) (-3.32,6.7) (-3.19,4.31) (-2.97,4.8) (-2.84,7.74) (-2.65,5.9) (-2.01,5.2)
};
\addplot[fit] coordinates {(-3.64,5.82) (-1.92,5.68)};
\end{axis}
\ptxt{96}{1028}{=0.4115}
\ptxt{244}{1028}{=0.1586}
\ptxt{389}{1028}{=0.4103}
\ptxt{531}{1028}{=0.0012}
\ptxt{673}{1028}{=0.9266}

% ---------------- F ----------------
\plabel{20}{1058}{F}
\rowtitle{391}{1081}{UBE2L6- Lymph nodes metastasis positive}
\draw[boxred, line width=1.6pt] (307pt,-1088pt) rectangle (593pt,-1310pt);
\begin{axis}[rsc, at={(63pt,-1254pt)}, width=93pt, xmin=-4.34, xmax=-0.22, ymin=2.58, ymax=8.95,
  xtick={-4,-3,-2,-1}, xticklabels={-4,-3,-2,-1},
  ytick={3,4,5,6,7,8}, yticklabels={3,4,5,6,7,8}, title={All}, ylabel={UBE2L6}]
\addplot[dots] coordinates {
(-4.1,5.8) (-4.1,3.3) (-3.98,5.9) (-3.98,5.5) (-3.98,4.9) (-3.98,3.9) (-3.92,7.4) (-3.92,6.7) (-3.92,5.2)
(-3.85,7.0) (-3.85,6.3) (-3.85,5.7) (-3.85,5.0) (-3.85,4.5) (-3.8,6.8) (-3.8,6.0) (-3.8,5.4) (-3.8,4.2)
(-3.75,7.0) (-3.75,5.8) (-3.75,5.1) (-3.75,4.8) (-3.7,6.4) (-3.7,5.6) (-3.7,5.0) (-3.7,4.4)
(-3.65,7.9) (-3.65,6.9) (-3.65,6.1) (-3.65,5.3) (-3.65,4.6) (-3.65,3.9) (-3.6,7.5) (-3.6,6.2) (-3.6,5.7) (-3.6,5.1) (-3.6,4.1)
(-3.55,7.3) (-3.55,6.3) (-3.55,5.4) (-3.55,4.9) (-3.55,3.7) (-3.5,6.9) (-3.5,5.9) (-3.5,5.2) (-3.5,4.5)
(-3.45,6.6) (-3.45,5.6) (-3.45,5.0) (-3.45,4.3) (-3.4,7.0) (-3.4,6.3) (-3.4,5.4) (-3.4,4.7) (-3.4,3.85)
(-3.35,5.9) (-3.35,5.1) (-3.35,4.4) (-3.3,6.8) (-3.3,6.1) (-3.3,5.6) (-3.3,4.9) (-3.3,4.2)
(-3.25,7.1) (-3.25,6.4) (-3.25,5.3) (-3.25,4.6) (-3.2,6.9) (-3.2,5.9) (-3.2,5.2) (-3.2,4.0) (-3.2,3.5)
(-3.15,6.7) (-3.15,6.2) (-3.15,5.5) (-3.15,4.8) (-3.1,7.0) (-3.1,6.0) (-3.1,5.1) (-3.1,4.4)
(-3.05,6.5) (-3.05,5.7) (-3.05,4.9) (-3.0,7.1) (-3.0,6.3) (-3.0,5.4) (-3.0,4.7) (-3.0,4.2)
(-2.95,6.8) (-2.95,5.9) (-2.95,5.2) (-2.95,3.7) (-2.9,6.6) (-2.9,5.6) (-2.9,4.6)
(-2.85,7.6) (-2.85,6.1) (-2.85,5.3) (-2.85,4.8) (-2.8,6.9) (-2.8,5.8) (-2.8,4.4) (-2.8,3.7)
(-2.75,5.75) (-2.75,5.0) (-2.75,4.7) (-2.7,6.4) (-2.7,5.5) (-2.7,4.2) (-2.6,7.4) (-2.6,6.6) (-2.6,5.7) (-2.6,3.35)
(-2.55,8.15) (-2.55,6.2) (-2.55,4.9) (-2.5,7.45) (-2.5,5.8) (-2.5,4.5) (-2.4,6.0) (-2.4,4.6)
(-2.3,7.3) (-2.3,5.2) (-2.2,6.5) (-2.2,4.9) (-2.1,6.9) (-2.1,4.0) (-2.1,5.3) (-2.0,6.6) (-2.0,4.4) (-2.0,4.6)
(-1.95,4.2) (-1.95,5.0) (-1.7,4.8) (-1.6,6.75) (-1.6,4.5) (-1.55,5.8) (-1.55,7.0) (-1.35,6.3) (-1.05,6.3)
(-0.7,6.1) (-0.55,5.9) (-0.4,6.9)
};
\addplot[fit] coordinates {(-4.34,5.62) (-0.22,5.77)};
\end{axis}
\begin{axis}[rsc, at={(205pt,-1254pt)}, xmin=-4.27, xmax=-0.89, ymin=3.13, ymax=8.15,
  xtick={-4,-3,-2,-1}, xticklabels={-4.0,-3.0,-2.0,-1.0},
  ytick={4,5,6,7,8}, yticklabels={4,5,6,7,8}, title={Luminal A}, ylabel={UBE2L6}]
\addplot[dots] coordinates {
(-4.12,5.85) (-3.97,5.8) (-3.85,7.0) (-3.8,6.75) (-3.75,6.3) (-3.78,7.0) (-3.72,5.75) (-3.7,5.6) (-3.68,5.85)
(-3.65,5.9) (-3.62,5.5) (-3.6,5.2) (-3.58,4.9) (-3.55,5.7) (-3.5,5.8) (-3.48,5.4) (-3.45,5.3) (-3.4,5.1)
(-3.38,5.15) (-3.55,7.95) (-3.45,7.5) (-3.48,4.0) (-3.48,3.7) (-3.35,5.55) (-3.3,5.9) (-3.25,5.2) (-3.2,5.0)
(-3.15,6.1) (-3.12,6.8) (-3.1,6.95) (-3.1,6.5) (-3.08,6.3) (-3.05,5.6) (-3.0,5.5) (-3.0,5.8) (-2.98,5.2)
(-2.95,5.05) (-2.92,5.1) (-2.9,5.75) (-2.8,5.75) (-2.75,4.7) (-2.7,4.7) (-2.68,5.35) (-2.62,5.75) (-2.55,5.6)
(-2.55,3.35) (-2.45,4.6) (-2.4,4.55) (-2.35,5.4) (-2.15,6.45) (-2.1,6.5) (-2.05,6.35) (-2.05,4.3) (-1.75,5.8)
(-1.7,4.8) (-1.05,6.3) (-4.08,3.3) (-3.75,5.2) (-3.3,4.3) (-2.95,6.0) (-3.2,5.75) (-3.42,5.5)
};
\addplot[fit] coordinates {(-4.27,5.72) (-0.89,5.36)};
\end{axis}
\begin{axis}[rsc, at={(347pt,-1254pt)}, xmin=-3.9, xmax=-1.39, ymin=4.0, ymax=7.6,
  xtick={-3.5,-3,-2.5,-2,-1.5}, xticklabels={-3.5,-3.0,-2.5,-2.0,-1.5},
  ytick={4.5,5,5.5,6,6.5,7,7.5}, yticklabels={4.5,5.0,5.5,6.0,6.5,7.0,7.5}, title={Luminal B}, ylabel={UBE2L6}]
\addplot[dots] coordinates {
(-3.82,5.1) (-3.65,4.12) (-3.56,7.06) (-3.41,6.28) (-3.27,5.26) (-3.3,5.06) (-3.18,4.8) (-3.16,5.1) (-3.16,4.36)
(-3.12,6.82) (-3.06,6.0) (-2.95,5.55) (-2.93,7.12) (-2.8,6.43) (-2.38,7.47) (-2.16,7.32) (-2.41,6.23) (-1.48,6.73)
};
\addplot[fit] coordinates {(-3.9,5.05) (-1.39,7.57)};
\end{axis}
\begin{axis}[rsc, at={(488pt,-1254pt)}, width=93pt, xmin=-3.64, xmax=-0.58, ymin=3.09, ymax=8.92,
  xtick={-3.5,-3,-2.5,-2,-1.5,-1}, xticklabels={-3.5,,-2.5,,-1.5,},
  ytick={4,5,6,7,8}, yticklabels={4,5,6,7,8}, title={Basal}, ylabel={UBE2L6}]
\addplot[dots] coordinates {
(-3.5,4.49) (-3.14,4.38) (-3.01,4.63) (-2.94,3.68) (-2.83,3.72) (-2.68,4.0) (-2.51,4.45)
(-2.2,5.59) (-2.18,5.68) (-2.05,6.85) (-2.04,4.63) (-1.96,4.54) (-0.72,6.14)
};
\addplot[fit] coordinates {(-3.64,3.84) (-0.58,6.41)};
\end{axis}
\begin{axis}[rsc, at={(630pt,-1254pt)}, xmin=-3.63, xmax=-1.95, ymin=4.15, ymax=7.32,
  xtick={-3.5,-3,-2.5,-2}, xticklabels={-3.5,-3.0,-2.5,-2.0},
  ytick={4.5,5,5.5,6,6.5,7}, yticklabels={4.5,5.0,5.5,6.0,6.5,7.0}, title={HER2+}, ylabel={UBE2L6}]
\addplot[dots] coordinates {
(-3.57,6.29) (-3.5,5.48) (-3.4,6.64) (-3.31,4.9) (-3.19,6.57) (-2.96,4.52) (-2.84,6.59) (-2.65,5.03) (-2.01,4.46)
};
\addplot[fit] coordinates {(-3.63,6.2) (-1.95,4.56)};
\end{axis}
\ptxt{109}{1303}{=0.6625}
\ptxt{248}{1303}{=0.5374}
\ptxt{392}{1303}{=0.0169}
\ptxt{541}{1303}{=0.0182}
\ptxt{676}{1303}{=0.1443}
\end{tikzpicture}
\end{document}
